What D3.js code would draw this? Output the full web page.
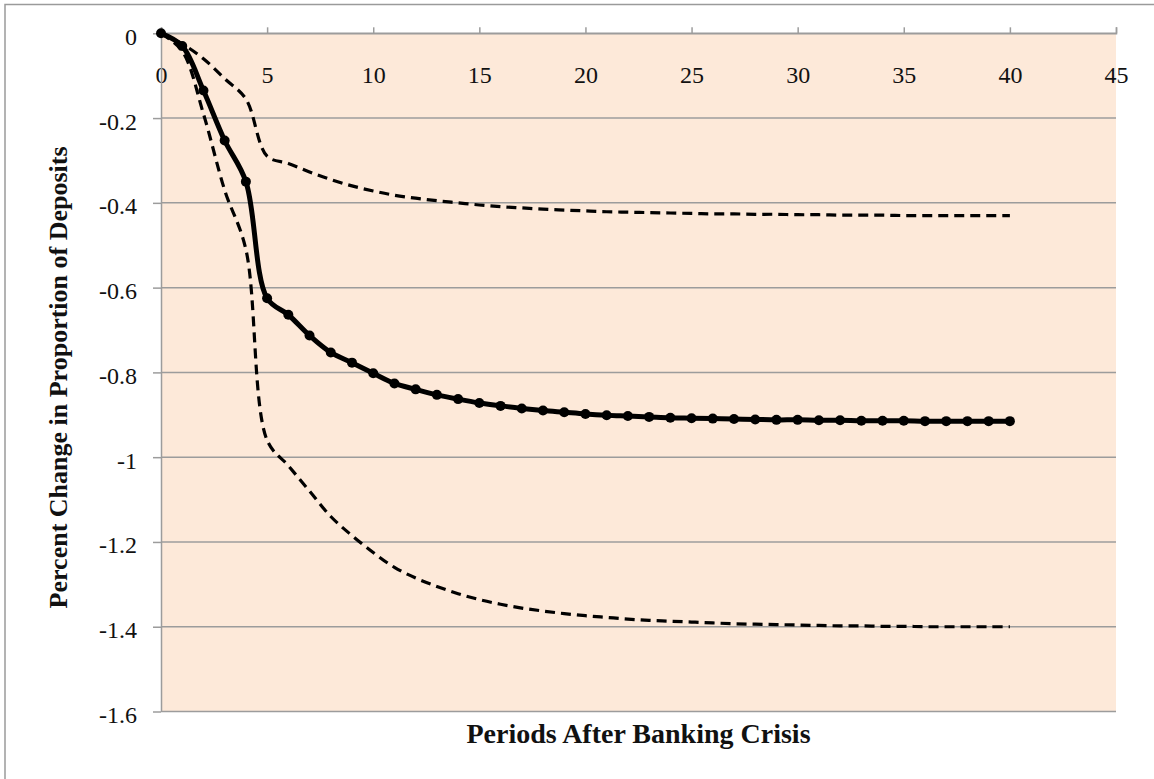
<!DOCTYPE html>
<html>
<head>
<meta charset="utf-8">
<script src="https://cdn.jsdelivr.net/npm/d3@7"></script>
<style>
  html, body { margin: 0; padding: 0; background: #fff; }
  svg { display: block; }
</style>
</head>
<body>
<div id="chart"></div>
<script>
// periods after the crisis
const periods = d3.range(0, 41);

// response of deposits (central estimate)
const central = [0, -0.03, -0.135, -0.253, -0.35, -0.625, -0.664, -0.713, -0.753, -0.777,
  -0.802, -0.826, -0.84, -0.853, -0.863, -0.872, -0.879, -0.885, -0.89, -0.894,
  -0.898, -0.901, -0.903, -0.905, -0.907, -0.908, -0.909, -0.91, -0.911, -0.912,
  -0.912, -0.913, -0.913, -0.914, -0.914, -0.914, -0.915, -0.915, -0.915, -0.915, -0.915];

// upper band
const upper = [0, -0.025, -0.06, -0.107, -0.155, -0.29, -0.307, -0.327, -0.345, -0.36,
  -0.372, -0.382, -0.389, -0.395, -0.4, -0.405, -0.409, -0.412, -0.415, -0.417,
  -0.419, -0.421, -0.422, -0.423, -0.424, -0.425, -0.426, -0.426, -0.427, -0.427,
  -0.428, -0.428, -0.429, -0.429, -0.429, -0.43, -0.43, -0.43, -0.43, -0.43, -0.43];

// lower band
const lower = [0, -0.042, -0.19, -0.37, -0.51, -0.96, -1.02, -1.08, -1.14, -1.185,
  -1.225, -1.26, -1.285, -1.305, -1.322, -1.336, -1.347, -1.356, -1.363, -1.369,
  -1.374, -1.378, -1.382, -1.385, -1.387, -1.389, -1.391, -1.393, -1.394, -1.395,
  -1.396, -1.397, -1.398, -1.398, -1.399, -1.399, -1.4, -1.4, -1.4, -1.4, -1.4];

const xTicks = [0, 5, 10, 15, 20, 25, 30, 35, 40, 45];
const yTicks = [0, -0.2, -0.4, -0.6, -0.8, -1, -1.2, -1.4, -1.6];

const xTitle = "Periods After Banking Crisis";
const yTitle = "Percent Change in Proportion of Deposits";

const W = 1154, H = 779;
const plot = {left: 161, right: 1116, top: 33.3, bottom: 711.5};
const FONT = "'Liberation Serif', 'Times New Roman', serif";
const GRID = "#9c9c9c";

const svg = d3.select("#chart").append("svg")
    .attr("width", W)
    .attr("height", H);

// outer chart frame (runs off the right and bottom of the picture)
svg.append("path")
    .attr("d", `M5,${H + 5} V4.5 H${W + 5}`)
    .attr("fill", "none")
    .attr("stroke", "#9a9a9a")
    .attr("stroke-width", 1.5);

const x = d3.scaleLinear().domain([0, 45]).range([plot.left, plot.right]);
const y = d3.scaleLinear().domain([-1.6, 0]).range([plot.bottom, plot.top]);

// plot background
svg.append("rect")
    .attr("x", plot.left)
    .attr("y", plot.top)
    .attr("width", plot.right - plot.left)
    .attr("height", plot.bottom - plot.top)
    .attr("fill", "#fde9d9");

// horizontal grid
svg.append("g")
    .selectAll("line")
    .data(yTicks)
    .enter().append("line")
    .attr("x1", plot.left)
    .attr("x2", plot.right)
    .attr("y1", d => y(d))
    .attr("y2", d => y(d))
    .attr("stroke", GRID)
    .attr("stroke-width", 1.5);

// x axis sits on the zero line, ticks pointing up, labels below
const xAxis = svg.append("g")
    .attr("transform", `translate(0,${y(0)})`)
    .call(d3.axisTop(x).tickValues(xTicks).tickSize(6).tickSizeOuter(6).tickFormat(d3.format("d")));
xAxis.select(".domain").attr("stroke", GRID).attr("stroke-width", 1.5);
xAxis.selectAll(".tick line").attr("stroke", GRID).attr("stroke-width", 1.5);
xAxis.selectAll(".tick text")
    .attr("y", 50)
    .attr("dy", null)
    .attr("fill", "#111")
    .style("font-family", FONT)
    .style("font-size", "24px");

// y axis
const yAxis = svg.append("g")
    .attr("transform", `translate(${plot.left},0)`)
    .call(d3.axisLeft(y).tickValues(yTicks).tickSize(8).tickSizeOuter(0));
yAxis.select(".domain").attr("stroke", GRID).attr("stroke-width", 1.5);
yAxis.selectAll(".tick line").attr("stroke", GRID).attr("stroke-width", 1.5);
yAxis.selectAll(".tick text")
    .attr("x", -24)
    .attr("dy", null)
    .attr("y", 11)
    .attr("fill", "#111")
    .text(d => d === 0 ? "0" : String(+d.toFixed(1)))
    .style("font-family", FONT)
    .style("font-size", "24px");

const line = d3.line()
    .x((d, i) => x(periods[i]))
    .y(d => y(d))
    .curve(d3.curveCatmullRom.alpha(0.5));

// confidence bands
[upper, lower].forEach((band, i) => {
    svg.append("path")
        .datum(band)
        .attr("id", `Band ${i + 1}`)
        .attr("fill", "none")
        .attr("stroke", "#000")
        .attr("stroke-width", 3.2)
        .attr("stroke-dasharray", "10,6")
        .attr("d", line);
});

// central response
svg.append("path")
    .datum(central)
    .attr("fill", "none")
    .attr("stroke", "#000")
    .attr("stroke-width", 5)
    .attr("stroke-linejoin", "round")
    .attr("d", line);

svg.append("g")
    .selectAll("circle")
    .data(central)
    .enter().append("circle")
    .attr("cx", (d, i) => x(periods[i]))
    .attr("cy", d => y(d))
    .attr("r", 5)
    .attr("fill", "#000");

// axis titles
svg.append("text")
    .attr("x", (plot.left + plot.right) / 2)
    .attr("y", 743)
    .attr("text-anchor", "middle")
    .style("font-family", FONT)
    .style("font-weight", "bold")
    .style("font-size", "28px")
    .attr("fill", "#111")
    .text(xTitle);

svg.append("text")
    .attr("transform", `translate(67,${(plot.top + plot.bottom) / 2 + 5}) rotate(-90)`)
    .attr("text-anchor", "middle")
    .style("font-family", FONT)
    .style("font-weight", "bold")
    .style("font-size", "26px")
    .attr("fill", "#111")
    .text(yTitle);
</script>
</body>
</html>
